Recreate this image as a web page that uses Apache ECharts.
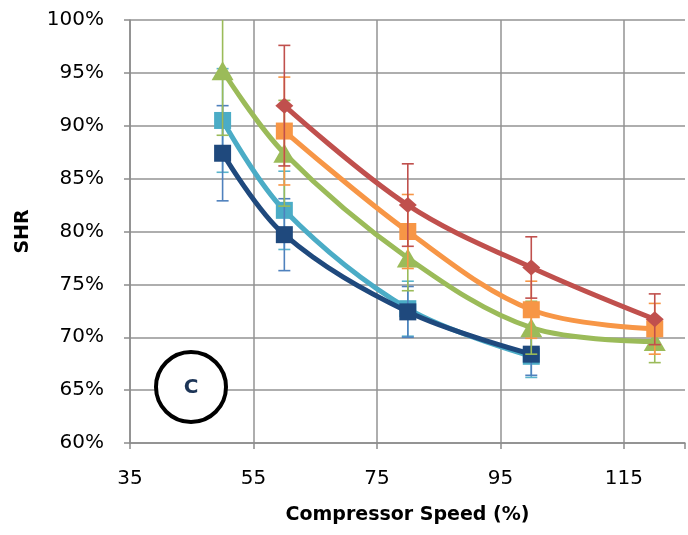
<!DOCTYPE html>
<html>
<head>
<meta charset="utf-8">
<script src="https://cdn.jsdelivr.net/npm/echarts@6/dist/echarts.min.js"></script>
<style>
  html, body { margin: 0; padding: 0; background: #fff; }
  #chart { width: 688px; height: 535px; }
</style>
</head>
<body>
<div id="chart"></div>
<script>
// compressor speed (%) and SHR (%)
var speedA = [50, 60, 80, 100];
var speedB = [50, 60, 80, 100, 120];
var speedC = [60, 80, 100, 120];

var darkBlue = [87.4, 79.7, 72.4, 68.4];
var darkBlueErr = [4.5, 3.4, 2.4, 2.0];
var lightBlue = [90.5, 82.0, 72.7, 68.2];
var lightBlueErr = [4.9, 3.7, 2.6, 2.0];
var green = [95.2, 87.4, 77.5, 70.9, 69.6];
var greenErr = [6.1, 5.0, 3.1, 2.5, 2.0];
var orange = [89.5, 80.0, 72.6, 70.8];
var orangeErr = [5.1, 3.5, 2.7, 2.4];
var red = [91.9, 82.5, 76.6, 71.7];
var redErr = [5.7, 3.9, 2.9, 2.4];

var yTicks = [60, 65, 70, 75, 80, 85, 90, 95, 100];
var xTicks = [35, 55, 75, 95, 115];

var font = 'DejaVu Sans';

function pairs(xs, ys) {
  return xs.map(function (x, i) { return [x, ys[i]]; });
}
function errPairs(xs, ys, es) {
  return xs.map(function (x, i) { return [x, ys[i] - es[i], ys[i] + es[i]]; });
}

function lineSeries(name, xs, ys, color, symbol, size, z) {
  return {
    name: name,
    type: 'line',
    data: pairs(xs, ys),
    smooth: 0.35,
    symbol: symbol,
    symbolSize: size,
    lineStyle: { color: color, width: 5 },
    itemStyle: { color: color },
    z: z
  };
}

function errSeries(xs, ys, es, color, z) {
  return {
    type: 'custom',
    data: errPairs(xs, ys, es),
    clip: true,
    z: z,
    renderItem: function (params, api) {
      var x = api.value(0);
      var lo = api.coord([x, api.value(1)]);
      var hi = api.coord([x, api.value(2)]);
      var cap = 6;
      var st = { stroke: color, lineWidth: 1.6 };
      return {
        type: 'group',
        children: [
          { type: 'line', shape: { x1: lo[0], y1: lo[1], x2: hi[0], y2: hi[1] }, style: st },
          { type: 'line', shape: { x1: lo[0] - cap, y1: lo[1], x2: lo[0] + cap, y2: lo[1] }, style: st },
          { type: 'line', shape: { x1: hi[0] - cap, y1: hi[1], x2: hi[0] + cap, y2: hi[1] }, style: st }
        ]
      };
    }
  };
}

var chart = echarts.init(document.getElementById('chart'));
chart.setOption({
  animation: false,
  grid: { left: 130, right: -2, top: 20, bottom: 92 },
  xAxis: {
    type: 'value',
    min: 35,
    max: 124.9,
    interval: 20,
    name: 'Compressor Speed (%)',
    nameLocation: 'middle',
    nameGap: 63,
    nameTextStyle: { fontFamily: font, fontSize: 19, fontWeight: 'bold', color: '#000' },
    axisLine: { lineStyle: { color: '#8c8c8c', width: 1.5 } },
    axisTick: { show: true, length: 6, lineStyle: { color: '#8c8c8c', width: 1.5 } },
    axisLabel: {
      margin: 26,
      fontFamily: font, fontSize: 20, color: '#000',
      formatter: function (v) { return xTicks.indexOf(v) >= 0 ? String(v) : ''; }
    },
    splitLine: { show: true, showMaxLine: false, lineStyle: { color: '#939393', width: 1.5 } }
  },
  yAxis: {
    type: 'value',
    min: yTicks[0],
    max: yTicks[yTicks.length - 1],
    interval: 5,
    name: 'SHR',
    nameLocation: 'middle',
    nameGap: 97,
    nameRotate: 90,
    nameTextStyle: { fontFamily: font, fontSize: 19, fontWeight: 'bold', color: '#000' },
    axisLine: { show: true, lineStyle: { color: '#8c8c8c', width: 1.5 } },
    axisTick: { show: true, length: 6, lineStyle: { color: '#8c8c8c', width: 1.5 } },
    axisLabel: { margin: 26, fontFamily: font, fontSize: 20, color: '#000', formatter: '{value}%' },
    splitLine: { show: true, lineStyle: { color: '#939393', width: 1.5 } }
  },
  graphic: [
    { type: 'circle', shape: { cx: 191, cy: 387, r: 35 }, style: { fill: '#fff', stroke: '#000', lineWidth: 4 }, z: 100 },
    { type: 'text', x: 191, y: 388, style: { text: 'C', fontFamily: font, fontSize: 20, fontWeight: 'bold', fill: '#1d3557', align: 'center', verticalAlign: 'middle' }, z: 101 }
  ],
  series: [
    errSeries(speedA, lightBlue, lightBlueErr, '#5ab4cc', 3),
    lineSeries('lightBlue', speedA, lightBlue, '#4BACC6', 'rect', 17, 3),
    errSeries(speedA, darkBlue, darkBlueErr, '#4f81bd', 4),
    lineSeries('darkBlue', speedA, darkBlue, '#1F497D', 'rect', 17, 4),
    errSeries(speedB, green, greenErr, '#9BBB59', 5),
    lineSeries('green', speedB, green, '#9BBB59', 'triangle', [22, 19], 5),
    errSeries(speedC, orange, orangeErr, '#F79646', 6),
    lineSeries('orange', speedC, orange, '#F79646', 'rect', 17, 6),
    errSeries(speedC, red, redErr, '#C0504D', 7),
    lineSeries('red', speedC, red, '#C0504D', 'diamond', [18, 16], 7)
  ]
});
</script>
</body>
</html>
